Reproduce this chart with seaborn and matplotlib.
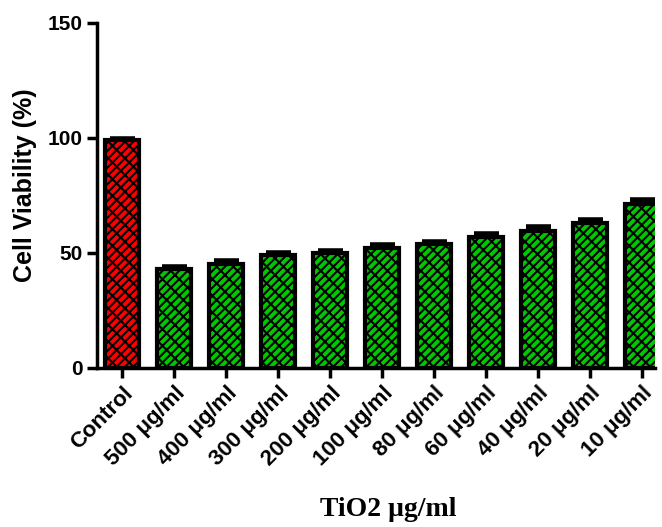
import matplotlib
matplotlib.use("Agg")
import matplotlib.pyplot as plt
import seaborn as sns
import pandas as pd
import numpy as np

categories = ["Control", "500 μg/ml", "400 μg/ml", "300 μg/ml", "200 μg/ml",
              "100 μg/ml", "80 μg/ml", "60 μg/ml", "40 μg/ml", "20 μg/ml", "10 μg/ml"]
viability = [99.0, 43.0, 45.2, 49.0, 49.8, 52.0, 53.8, 57.0, 59.5, 62.8, 71.3]
errors = [0.5, 1.0, 1.2, 0.9, 0.8, 1.2, 0.9, 1.3, 1.8, 1.3, 1.5]
colors = ["#FF0000"] + ["#00C800"] * 10

df = pd.DataFrame({"cat": categories, "val": viability})

sns.set_style("ticks")
plt.rcParams["font.family"] = ["Liberation Sans", "DejaVu Sans"]
plt.rcParams["hatch.linewidth"] = 1.5
plt.rcParams["hatch.color"] = "black"
plt.rcParams["text.color"] = "black"
plt.rcParams["xtick.color"] = "black"
plt.rcParams["ytick.color"] = "black"
plt.rcParams["axes.edgecolor"] = "black"

fig = plt.figure(figsize=(6.62, 5.27), dpi=100)
ax = fig.add_axes([0.147, 0.302, 0.843, 0.655])

sns.barplot(data=df, x="cat", y="val", hue="cat", palette=colors, legend=False,
            saturation=1, width=0.65, edgecolor="black", linewidth=3, ax=ax, zorder=2)
for p in ax.patches:
    p.set_hatch("////\\\\")

ax.errorbar(np.arange(len(categories)), viability, yerr=[np.zeros(len(errors)), errors],
            fmt="none", ecolor="black", elinewidth=3, capsize=9, capthick=4, zorder=1)

ax.set_xlim(-0.48, 10.25)
ax.set_ylim(0, 150)
ax.set_yticks([0, 50, 100, 150])
ax.set_yticklabels(["0", "50", "100", "150"], fontsize=15, fontweight="bold")
ax.set_xticks(range(len(categories)))
ax.set_xticklabels(categories, rotation=45, ha="right", rotation_mode="anchor",
                   fontsize=16, fontweight="bold")
ax.set_xlabel("")
ax.set_ylabel("")
fig.text(25 / 662, 1 - 185 / 527, "Cell Viability (%)", rotation=90, fontsize=18,
         fontweight="bold", ha="center", va="center")
fig.text(388 / 662, 1 - 509 / 527, "TiO2 μg/ml", fontsize=20, fontweight="bold",
         family=["Liberation Serif", "DejaVu Serif"], ha="center", va="center")

for s in ["top", "right"]:
    ax.spines[s].set_visible(False)
for s in ["left", "bottom"]:
    ax.spines[s].set_linewidth(2.5)
ax.tick_params(axis="both", width=2.5, length=7, direction="out")

fig.savefig("out.png", dpi=100)
